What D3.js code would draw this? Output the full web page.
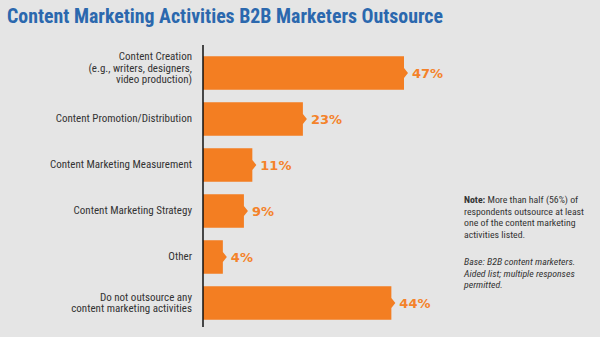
<!DOCTYPE html>
<html><head><meta charset="utf-8">
<script src="https://cdn.jsdelivr.net/npm/d3@7"></script>
<style>body{margin:0;background:#e5e5e5}svg{display:block}</style>
</head><body><svg id="c" width="600" height="337"></svg>
<script>
const title = "Content Marketing Activities B2B Marketers Outsource";
const categories = [
  ["Content Creation", "(e.g., writers, designers,", "video production)"],
  ["Content Promotion/Distribution"],
  ["Content Marketing Measurement"],
  ["Content Marketing Strategy"],
  ["Other"],
  ["Do not outsource any", "content marketing activities"]
];
const values = [47, 23, 11, 9, 4, 44];
const valueLabels = ["47%", "23%", "11%", "9%", "4%", "44%"];
const noteLines = [
  [["Note:", true], [" More than half (56%) of", false]],
  [["respondents outsource at least", false]],
  [["one of the content marketing", false]],
  [["activities listed.", false]]
];
const baseLines = ["Base: B2B content marketers.", "Aided list; multiple responses", "permitted."];

const svg = d3.select("#c");
const W = 600, H = 337;
svg.append("rect").attr("width", W).attr("height", H).attr("fill", "#e5e5e5");

const narrow = "'Liberation Sans Narrow', 'Roboto Condensed', 'DejaVu Sans Condensed', sans-serif";

svg.append("text").attr("x", 7).attr("y", 23)
  .attr("font-family", narrow).attr("font-weight", 700).attr("font-size", 21)
  .attr("fill", "#2b68ae").attr("textLength", 436).attr("lengthAdjust", "spacingAndGlyphs")
  .text(title);

const axisX = 203;
const keys = categories.map((c, i) => i);
const y = d3.scaleBand().domain(keys).range([50, 326]).paddingInner(0.27).paddingOuter(0.135);
const x = d3.scaleLinear().domain([0, 47]).range([206, 404]);

const g = svg.append("g");
g.selectAll("path.bar").data(values).join("path").attr("class", "bar")
  .attr("fill", "#f37e22")
  .attr("d", (v, i) => {
    const y0 = y(i), y1 = y(i) + y.bandwidth(), yc = (y0 + y1) / 2, xr = x(v);
    return `M${axisX},${y0}H${xr}V${yc - 5}L${xr + 4},${yc}L${xr},${yc + 5}V${y1}H${axisX}Z`;
  });

g.selectAll("text.val").data(values).join("text").attr("class", "val")
  .attr("x", v => x(v) + 8).attr("y", (v, i) => y(i) + y.bandwidth() / 2 + 5)
  .attr("font-family", "'DejaVu Sans', sans-serif").attr("font-weight", 700).attr("font-size", 13)
  .attr("fill", "#f4822a").text((v, i) => valueLabels[i]);

svg.append("line").attr("x1", axisX).attr("x2", axisX).attr("y1", 45).attr("y2", 327)
  .attr("stroke", "#111").attr("stroke-width", 1.5);

const lab = g.selectAll("text.cat").data(categories).join("text").attr("class", "cat")
  .attr("text-anchor", "end").attr("font-family", narrow).attr("font-size", 11)
  .attr("fill", "#333");
lab.each(function (lines, i) {
  const cy = y(i) + y.bandwidth() / 2;
  const n = lines.length;
  const lh = 11.5;
  const start = n === 1 ? cy + 2.5 : (n === 2 ? cy - 2.5 : cy - 13);
  d3.select(this).selectAll("tspan").data(lines).join("tspan")
    .attr("x", 192).attr("y", (d, k) => start + k * lh).text(d => d);
});

const note = svg.append("text").attr("font-family", narrow).attr("font-size", 9.8).attr("fill", "#333");
noteLines.forEach((parts, k) => {
  parts.forEach((p, j) => {
    const t = note.append("tspan").attr("font-weight", p[1] ? 700 : 400).text(p[0]);
    if (j === 0) t.attr("x", 464).attr("y", 203 + k * 11.5);
  });
});
const base = svg.append("text").attr("font-family", narrow).attr("font-size", 9.8)
  .attr("font-style", "italic").attr("fill", "#333");
baseLines.forEach((l, k) => base.append("tspan").attr("x", 464).attr("y", 265 + k * 11.5).text(l));
</script></body></html>
